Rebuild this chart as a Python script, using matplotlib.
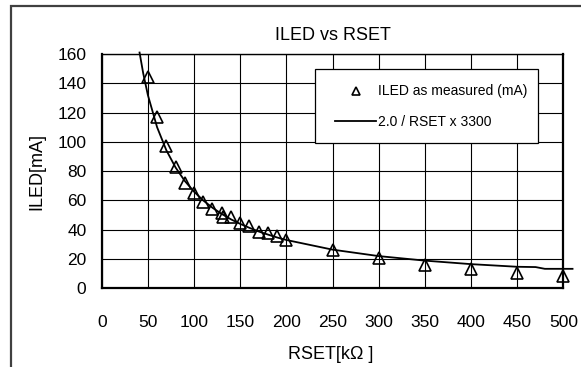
#!/usr/bin/env python
"""ILED vs RSET: measured LED current against the 2.0 / RSET x 3300 curve."""

import matplotlib

matplotlib.use("Agg")
import matplotlib.pyplot as plt
from matplotlib.patches import Rectangle

# measured points (kOhm, mA)
rset_measured = [50, 60, 70, 80, 90, 100, 110, 120, 130, 131, 140, 150, 160, 170, 180,
                 190, 200, 250, 300, 350, 400, 450, 500]
iled_measured = [144.5, 117, 97, 83, 72, 65, 59, 54, 51.2, 48.8, 49, 44.5, 42.3, 38.5, 37.8,
                 36, 33, 26, 20.7, 15.8, 13.5, 10.2, 8.2]

# reference curve as drawn (kOhm, mA)
rset_curve = [41, 45, 50, 60, 70, 80, 90, 100, 110, 120, 130, 140, 150, 160, 170, 180,
              190, 200, 250, 300, 350, 400, 450, 470, 480, 510]
iled_curve = [161, 146.7, 132, 110, 94.3, 82.5, 73.3, 66, 60, 55, 50.8, 47.1, 44, 41.3,
              38.8, 36.7, 34.7, 33, 26.4, 22, 18.9, 16.5, 14.7, 14.5, 13.3, 13.3]

x_ticks = [0, 50, 100, 150, 200, 250, 300, 350, 400, 450, 500]
y_ticks = [0, 20, 40, 60, 80, 100, 120, 140, 160]

W, H = 581, 367
plt.rcParams["font.family"] = ["Liberation Sans", "DejaVu Sans"]

fig = plt.figure(figsize=(W / 100, H / 100), dpi=100)
fig.patches.append(Rectangle((11 / W, -0.1), 1.2, 1 - 6 / H + 0.1, transform=fig.transFigure,
                             fill=False, edgecolor="#404040", linewidth=1.6))

ax = fig.add_axes([101.7 / W, 1 - 288.3 / H, 461.6 / W, 234.3 / H])
ax.set_xlim(0, 500)
ax.set_ylim(0, 160)
ax.set_xticks(x_ticks)
ax.set_yticks(y_ticks)
ax.tick_params(length=0, labelsize=12.5, colors="black")
ax.tick_params(axis="x", pad=19)
ax.tick_params(axis="y", pad=11)
ax.grid(True, color="black", linewidth=0.8)
ax.set_axisbelow(True)
for side in ("left", "bottom", "right"):
    ax.spines[side].set_linewidth(1.6)
ax.spines["top"].set_linewidth(1.0)

curve, = ax.plot(rset_curve, iled_curve, color="black", linewidth=1.3, clip_on=False, zorder=3)
points, = ax.plot(rset_measured, iled_measured, linestyle="none", marker="^", markersize=8,
                  markerfacecolor="none", markeredgecolor="black", markeredgewidth=1.2,
                  clip_on=False, zorder=4)

ax.text(0.5, 1.081, "ILED vs RSET", transform=ax.transAxes, ha="center", va="center",
        fontsize=13)
ax.set_xlabel("RSET[k\u03a9 ]", fontsize=13)
ax.xaxis.set_label_coords(0.495, -0.246)
ax.set_ylabel("ILED[mA]", fontsize=13)
ax.yaxis.set_label_coords(-0.121, 0.5)

ax.add_patch(Rectangle((0.462, 0.619), 0.484, 0.316, transform=ax.transAxes, facecolor="white",
                       edgecolor="black", linewidth=0.9, zorder=5))
leg = ax.legend([points, curve], ["ILED as measured (mA)", "2.0 / RSET x 3300"],
                loc="upper left", bbox_to_anchor=(0.505, 0.87), frameon=False, fontsize=10,
                handlelength=3.0, handletextpad=0.1, labelspacing=1.2, markerscale=0.8,
                borderpad=0, borderaxespad=0)
leg.set_zorder(6)

fig.savefig("out.png", dpi=100, facecolor="white")
